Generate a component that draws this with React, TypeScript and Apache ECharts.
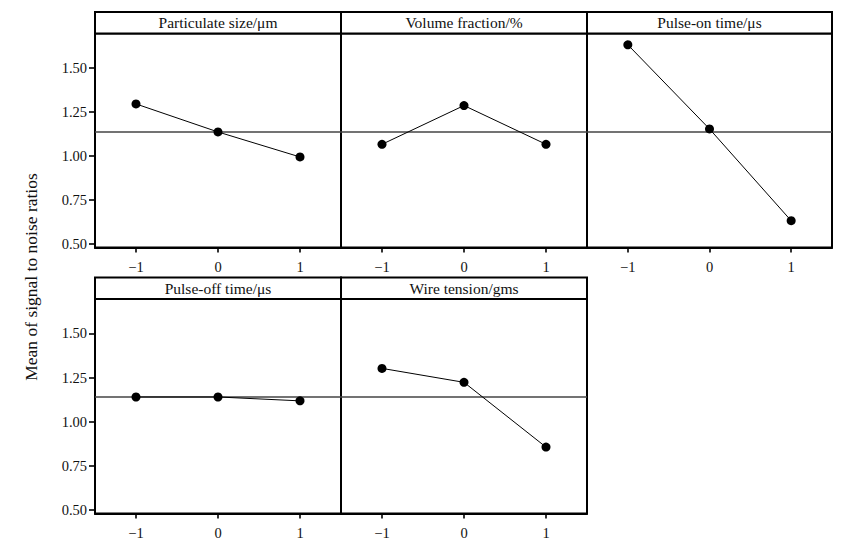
import React, { useEffect, useRef } from "react";
import * as echarts from "echarts";

const xLevels = [-1, 0, 1];
const xTickLabels = ["−1", "0", "1"];
const yTicks = [0.5, 0.75, 1.0, 1.25, 1.5];
const factorNames = [
  "Particulate size/μm",
  "Volume fraction/%",
  "Pulse-on time/μs",
  "Pulse-off time/μs",
  "Wire tension/gms",
];
const particulateSize = [1.295, 1.136, 0.994];
const volumeFraction = [1.066, 1.286, 1.066];
const pulseOnTime = [1.631, 1.153, 0.632];
const pulseOffTime = [1.14, 1.14, 1.118];
const wireTension = [1.302, 1.223, 0.856];
const overallMean = 1.14;
const yLabel = "Mean of signal to noise ratios";

const FONT = '"Liberation Serif", "DejaVu Serif", serif';

export default function App() {
  const ref = useRef<HTMLDivElement>(null);
  useEffect(() => {
    if (!ref.current) return;
    const chart = echarts.init(ref.current, null, { renderer: "svg" });
    const seriesValues = [particulateSize, volumeFraction, pulseOnTime, pulseOffTime, wireTension];
    const panels = [
      { left: 95, top: 33.5, width: 246, height: 214, showY: true },
      { left: 341, top: 33.5, width: 246, height: 214, showY: false },
      { left: 587, top: 33.5, width: 245, height: 214, showY: false },
      { left: 95, top: 299, width: 246, height: 214.5, showY: true },
      { left: 341, top: 299, width: 246, height: 214.5, showY: false },
    ];
    const stripH = 21.5;
    const BW = 2;
    const grids = panels.map((p) => ({
      left: p.left,
      top: p.top,
      width: p.width,
      height: p.height,
      show: true,
      borderColor: "#000",
      borderWidth: BW,
      containLabel: false,
    }));
    const xAxes = panels.map((p, i) => ({
      type: "value",
      gridIndex: i,
      min: -1.5,
      max: 1.5,
      splitLine: { show: false },
      axisLine: { show: true, onZero: false, lineStyle: { color: "#000", width: BW } },
      axisTick: { show: true, length: 5, lineStyle: { color: "#000", width: 1.6 }, customValues: xLevels },
      axisLabel: {
        show: true,
        margin: 12,
        customValues: xLevels,
        fontFamily: FONT,
        fontSize: 14.5,
        color: "#111",
        formatter: (v: number) => xTickLabels[xLevels.indexOf(Math.round(v))] ?? "",
      },
    }));
    const yAxes = panels.map((p, i) => ({
      type: "value",
      gridIndex: i,
      min: 0.48,
      max: 1.695,
      splitLine: { show: false },
      axisLine: { show: true, onZero: false, lineStyle: { color: "#000", width: BW } },
      axisTick: { show: p.showY, length: 6, lineStyle: { color: "#000", width: 1.6 }, customValues: yTicks },
      axisLabel: {
        show: p.showY,
        margin: 8,
        customValues: yTicks,
        fontFamily: FONT,
        fontSize: 14.5,
        color: "#111",
        formatter: (v: number) => v.toFixed(2),
      },
    }));
    const series = seriesValues.map((vals, i) => ({
      type: "line",
      xAxisIndex: i,
      yAxisIndex: i,
      data: xLevels.map((x, j) => [x, vals[j]]),
      symbol: "circle",
      symbolSize: 9,
      itemStyle: { color: "#000" },
      lineStyle: { color: "#000", width: 1 },
      z: 3,
      markLine: {
        silent: true,
        symbol: "none",
        label: { show: false },
        lineStyle: { color: "#454545", width: 1.7, type: "solid" },
        data: [{ yAxis: overallMean }],
        z: 2,
      },
    }));
    const graphics: any[] = [];
    panels.forEach((p, i) => {
      graphics.push({
        type: "rect",
        shape: { x: p.left, y: p.top - stripH, width: p.width, height: stripH },
        style: { fill: "#fff", stroke: "#000", lineWidth: BW },
        z: 10,
      });
      graphics.push({
        type: "text",
        x: p.left + p.width / 2,
        y: p.top - stripH / 2,
        style: {
          text: factorNames[i],
          fontFamily: FONT,
          fontSize: 15.5,
          fill: "#111",
          textAlign: "center",
          textVerticalAlign: "middle",
        },
        z: 11,
      });
    });
    graphics.push({
      type: "text",
      x: 31,
      y: 277,
      rotation: Math.PI / 2,
      style: {
        text: yLabel,
        fontFamily: FONT,
        fontSize: 17.5,
        fill: "#111",
        textAlign: "center",
        textVerticalAlign: "middle",
      },
    });
    chart.setOption({
      animation: false,
      backgroundColor: "#fff",
      grid: grids,
      xAxis: xAxes,
      yAxis: yAxes,
      series,
      graphic: graphics,
    });
    return () => chart.dispose();
  }, []);
  return (
    <div
      ref={ref}
      style={{ position: "fixed", left: 0, top: 0, width: 855, height: 552, background: "#fff" }}
    />
  );
}
